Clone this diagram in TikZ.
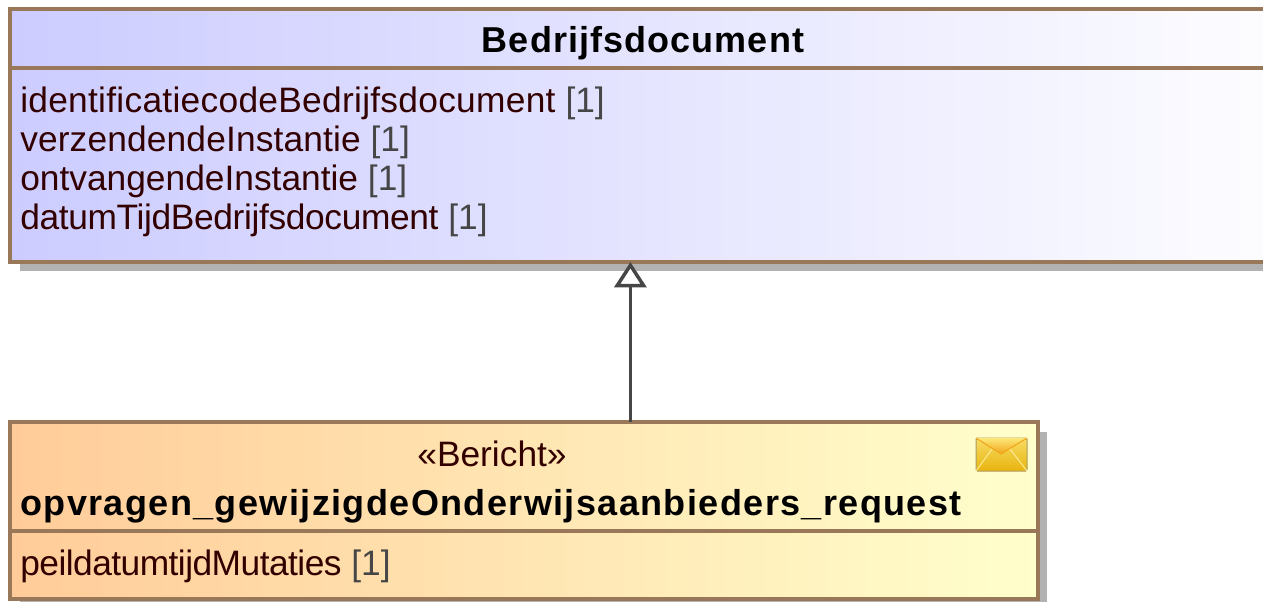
\documentclass[tikz,border=0pt]{standalone}
\usepackage{fontspec}
\setmainfont{Liberation Sans}
\usetikzlibrary{calc,arrows.meta}
\definecolor{umlborder}{RGB}{153,119,89}
\definecolor{umlshadow}{RGB}{178,178,178}
\definecolor{umltext}{RGB}{51,0,0}
\definecolor{umlmult}{RGB}{70,70,70}
\definecolor{umlline}{RGB}{70,70,70}
\definecolor{docleft}{RGB}{204,204,255}
\definecolor{reqleft}{RGB}{255,204,153}
\definecolor{reqright}{RGB}{255,255,204}
\definecolor{envtop}{RGB}{247,220,100}
\definecolor{envbottom}{RGB}{232,180,15}
\definecolor{envedge}{RGB}{175,155,95}
\definecolor{flaptop}{RGB}{252,232,120}
\definecolor{flapbottom}{RGB}{240,165,25}
\definecolor{envlight}{RGB}{250,235,150}
\tikzstyle{classbox}=[draw=umlborder, line width=2.4pt, inner sep=0pt, outer sep=0pt, anchor=north west]
\tikzstyle{attr}=[anchor=base west, inner sep=0pt, text=umltext, font=\fontsize{26.5}{26.5}\selectfont]
\tikzstyle{classname}=[anchor=base, inner sep=0pt, text=black, font=\fontsize{27}{27}\selectfont\bfseries]
\tikzstyle{gen}=[draw=umlline, line width=2.6pt, -{Triangle[open,fill=white,length=19pt,width=24pt]}]
\newcommand{\mult}{ \textcolor{umlmult}{[1]}}
\begin{document}
\begin{tikzpicture}[x=0.75pt,y=-0.75pt]
\useasboundingbox (0,0) rectangle (1263,601);
\clip (0,0) rectangle (1263,601);
% shadows
\fill[umlshadow] (20,19) rectangle (1320,271);
\fill[umlshadow] (20,432) rectangle (1047,610);
% Bedrijfsdocument
\node[classbox, minimum width=990pt, minimum height=189.75pt, left color=docleft, right color=white] (document) at (10,9) {};
\coordinate (docsplitl) at (10,68);
\coordinate (docsplitr) at (1320,68);
\draw[umlborder, line width=2.4pt] (docsplitl) -- (docsplitr);
\node[classname, font=\fontsize{27}{27}\selectfont\bfseries\addfontfeature{LetterSpace=3}] (doctitle) at (643,52) {Bedrijfsdocument};
\foreach \name/\ypos/\track/\label in {a/112/0.8/identificatiecodeBedrijfsdocument, b/151/0.4/verzendendeInstantie, c/190/0/ontvangendeInstantie, d/229/-1/datumTijdBedrijfsdocument} {
	\node[attr] (doc\name) at (20,\ypos) {{\addfontfeature{LetterSpace=\track}\label}\mult};
}
% opvragen request
\node[classbox, minimum width=771pt, minimum height=132.75pt, left color=reqleft, right color=reqright] (request) at (10,422) {};
\coordinate (reqsplitl) at (10,531);
\coordinate (reqsplitr) at (1038,531);
\draw[umlborder, line width=2.4pt] (reqsplitl) -- (reqsplitr);
\node[classname, font=\fontsize{26.5}{26.5}\selectfont, text=umltext] (stereo) at (492,466) {«Bericht»};
\node[classname, anchor=base west, font=\fontsize{27}{27}\selectfont\bfseries\addfontfeature{LetterSpace=3.9}] (reqtitle) at (20,515) {opvragen\_gewijzigdeOnderwijsaanbieders\_request};
\node[attr] (reqa) at (20,575) {{\addfontfeature{LetterSpace=-1.5}peildatumtijdMutaties}\mult};
% envelope
\coordinate (envnw) at (976,438);
\coordinate (envne) at (1027,438);
\coordinate (envse) at (1027,471);
\coordinate (envsw) at (976,471);
\coordinate (envm) at (1001,454);
\shade[top color=envtop, bottom color=envbottom, draw=envedge, line width=.75pt, rounded corners=1pt] (envnw) -- (envne) -- (envse) -- (envsw) -- cycle;
\shade[top color=flaptop, bottom color=flapbottom] (envnw) -- (envne) -- (envm) -- cycle;
\draw[flapbottom, line width=.75pt] (envnw) -- (envm) -- (envne);
\draw[envlight, line width=.75pt] (envsw) -- (992,449);
\draw[envlight, line width=.75pt] (envse) -- (1010,449);
% generalization
\coordinate (genstart) at ($(request.north west)!.6035!(request.north east)$);
\draw[gen] (genstart) -- (genstart |- document.south);
\end{tikzpicture}
\end{document}
